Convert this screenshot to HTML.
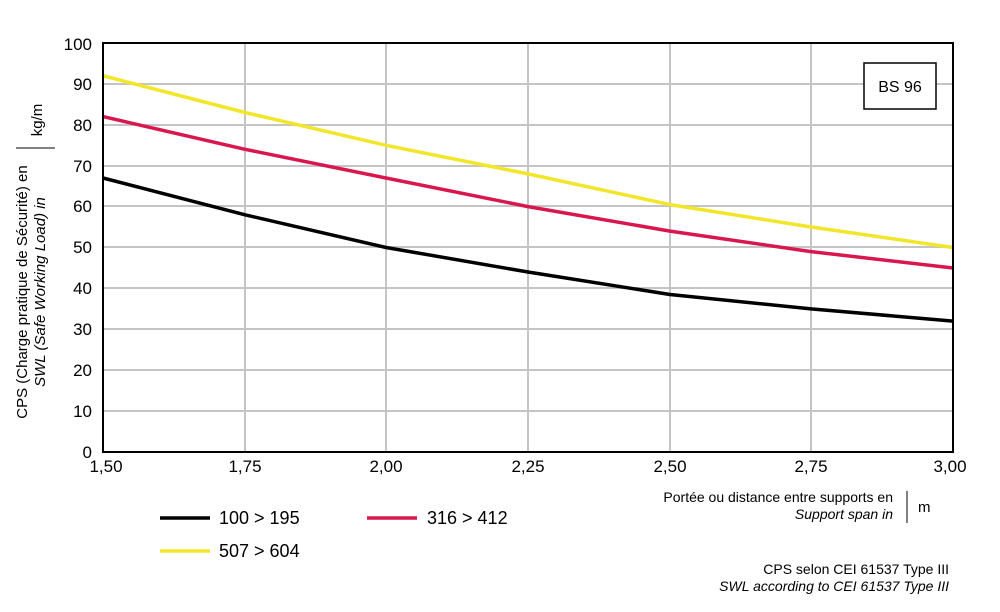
<!DOCTYPE html>
<html><head><meta charset="utf-8"><style>
html,body{margin:0;padding:0;background:#fff;}
svg{display:block;font-family:"Liberation Sans",sans-serif;}
</style></head><body>
<svg width="1000" height="612" viewBox="0 0 1000 612">
<g stroke="#c4c4c4" stroke-width="2">
<line x1="103" y1="84" x2="953" y2="84"/><line x1="103" y1="125" x2="953" y2="125"/>
<line x1="103" y1="166" x2="953" y2="166"/><line x1="103" y1="206" x2="953" y2="206"/>
<line x1="103" y1="247" x2="953" y2="247"/><line x1="103" y1="288" x2="953" y2="288"/>
<line x1="103" y1="329" x2="953" y2="329"/><line x1="103" y1="370" x2="953" y2="370"/>
<line x1="103" y1="411" x2="953" y2="411"/>
<line x1="245" y1="43" x2="245" y2="452"/><line x1="386" y1="43" x2="386" y2="452"/>
<line x1="528" y1="43" x2="528" y2="452"/><line x1="670" y1="43" x2="670" y2="452"/>
<line x1="811" y1="43" x2="811" y2="452"/>
</g>
<g fill="none" stroke-width="3.5" stroke-linejoin="round">
<polyline stroke="#f2e62a" points="103,75.7 245,112.5 386,145.3 528,173.9 670,204.6 811,227 953,247.5"/>
<polyline stroke="#d8174f" points="103,116.6 245,149.3 386,178 528,206.6 670,231.1 811,251.6 953,268"/>
<polyline stroke="#000" points="103,178 245,214.8 386,247.5 528,272 670,294.5 811,308.9 953,321.1"/>
</g>
<rect x="103" y="43" width="850" height="409" fill="none" stroke="#000" stroke-width="2"/>
<rect x="864" y="63" width="72" height="46" fill="#fff" stroke="#000" stroke-width="1.5"/>
<text x="900" y="92" font-size="16" text-anchor="middle">BS 96</text>
<g font-size="17" text-anchor="end">
<text x="92" y="50">100</text><text x="92" y="90">90</text><text x="92" y="131">80</text>
<text x="92" y="172">70</text><text x="92" y="212">60</text><text x="92" y="253">50</text>
<text x="92" y="294">40</text><text x="92" y="335">30</text><text x="92" y="376">20</text>
<text x="92" y="417">10</text><text x="92" y="458">0</text>
</g>
<g font-size="17" text-anchor="middle">
<text x="106" y="472">1,50</text><text x="245" y="472">1,75</text><text x="386" y="472">2,00</text>
<text x="528" y="472">2,25</text><text x="670" y="472">2,50</text><text x="811" y="472">2,75</text>
<text x="950" y="472">3,00</text>
</g>
<g font-size="15" text-anchor="middle">
<text transform="translate(27,292) rotate(-90)">CPS (Charge pratique de Sécurité) en</text>
<text transform="translate(45,292) rotate(-90)" font-style="italic">SWL (Safe Working Load) in</text>
<text transform="translate(42,120) rotate(-90)">kg/m</text>
</g>
<line x1="16" y1="148" x2="55" y2="148" stroke="#000" stroke-width="1"/>
<g font-size="14" text-anchor="end">
<text x="893" y="502">Portée ou distance entre supports en</text>
<text x="893" y="519" font-style="italic">Support span in</text>
<text x="949" y="574">CPS selon CEI 61537 Type III</text>
<text x="949" y="591" font-style="italic">SWL according to CEI 61537 Type III</text>
</g>
<line x1="907" y1="491" x2="907" y2="523" stroke="#000" stroke-width="1"/>
<text x="918" y="512" font-size="15">m</text>
<g stroke-width="3.5">
<line x1="160" y1="518" x2="210" y2="518" stroke="#000"/>
<line x1="367" y1="518" x2="417" y2="518" stroke="#d8174f"/>
<line x1="160" y1="551" x2="210" y2="551" stroke="#f2e62a"/>
</g>
<g font-size="18">
<text x="219" y="524">100 &gt; 195</text>
<text x="427" y="524">316 &gt; 412</text>
<text x="219" y="557">507 &gt; 604</text>
</g>
</svg>
</body></html>
